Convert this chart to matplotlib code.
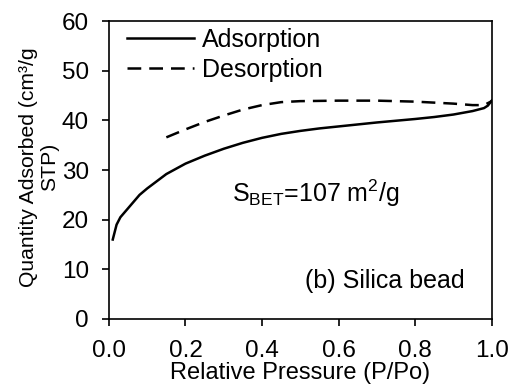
import matplotlib
matplotlib.use("Agg")
import matplotlib.pyplot as plt

plt.rcParams['font.family'] = ['Liberation Sans', 'DejaVu Sans']

# N2 isotherm, silica bead
p_ads = [0.01, 0.02, 0.03, 0.05, 0.08, 0.10, 0.15, 0.20, 0.25, 0.30, 0.35, 0.40,
         0.45, 0.50, 0.55, 0.60, 0.70, 0.80, 0.85, 0.90, 0.95, 0.98, 0.99, 1.00]
q_ads = [16.0, 19.0, 20.5, 22.3, 25.0, 26.3, 29.2, 31.3, 32.9, 34.3, 35.5, 36.5,
         37.3, 37.9, 38.4, 38.8, 39.6, 40.3, 40.7, 41.2, 41.9, 42.5, 43.0, 44.0]

p_des = [0.15, 0.20, 0.25, 0.30, 0.35, 0.40, 0.45, 0.50, 0.60, 0.70, 0.80,
         0.90, 0.95, 0.98, 1.00]
q_des = [36.6, 38.2, 39.7, 41.0, 42.2, 43.1, 43.7, 43.9, 44.0, 44.0, 43.8,
         43.4, 43.1, 43.1, 43.9]

fig, ax = plt.subplots(figsize=(5.09, 3.87), dpi=100)
fig.subplots_adjust(left=0.214, right=0.966, top=0.945, bottom=0.176)

ax.plot(p_ads, q_ads, color='black', lw=1.8, label='Adsorption')
ax.plot(p_des, q_des, color='black', lw=1.8, ls=(0, (5.5, 3.2)), label='Desorption')

ax.set_xlim(0, 1.0)
ax.set_ylim(0, 60)
ax.set_xticks([0.0, 0.2, 0.4, 0.6, 0.8, 1.0])
ax.set_xticklabels(['0.0', '0.2', '0.4', '0.6', '0.8', '1.0'])
ax.set_yticks(range(0, 61, 10))
ax.tick_params(direction='out', length=5, width=1.2, labelsize=17.5)
ax.tick_params(axis='y', pad=9.5)
ax.tick_params(axis='x', pad=10.5)
for s in ax.spines.values():
    s.set_linewidth(1.2)

ax.set_xlabel('Relative Pressure (P/Po)', fontsize=17, labelpad=0)
ax.set_ylabel('Quantity Adsorbed (cm³/g\nSTP)', fontsize=15.2, linespacing=1.15)
ax.yaxis.set_label_coords(-0.13, 0.51)

ax.legend(loc='upper left', frameon=False, fontsize=18, handlelength=2.7,
          handletextpad=0.3, borderaxespad=0.0, labelspacing=0.25,
          borderpad=0.25, bbox_to_anchor=(0.03, 1.0))

ax.text(0.321, 0.423, r'S$_\mathregular{BET}$=107 m$^\mathregular{2}$/g',
        transform=ax.transAxes, fontsize=18, va='center')
ax.text(0.93, 0.128, '(b) Silica bead', transform=ax.transAxes,
        fontsize=18, ha='right', va='center')

fig.savefig('out.png', dpi=100)
